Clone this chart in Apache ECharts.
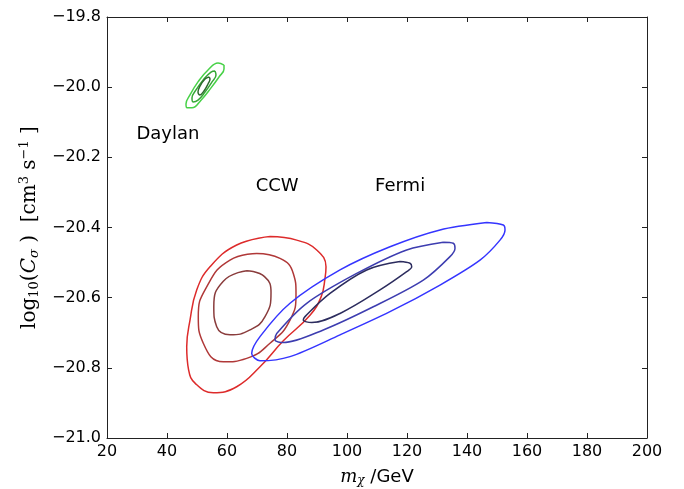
<!DOCTYPE html>
<html><head><meta charset="utf-8">
<script src="https://cdn.jsdelivr.net/npm/echarts@6/dist/echarts.min.js"></script>
<style>html,body{margin:0;padding:0;background:#fff}#c{width:684px;height:489px}</style>
</head><body><div id="c"></div>
<script>
// Axis ranges / ticks
const xRange = [20, 200, 20];
const yRange = [-21.0, -19.8, 0.2];

// Contour lines [mass GeV, log10(C)]
const daylanOuter = [[59.0,-19.937],[57.0,-19.931],[53.67,-19.951],[50.33,-19.985],[47.67,-20.022],[46.33,-20.048],[46.67,-20.059],[48.33,-20.059],[51.33,-20.037],[54.67,-20.002],[57.33,-19.971],[59.0,-19.948]];
const daylanMid = [[56.0,-19.954],[54.67,-19.957],[52.0,-19.98],[49.67,-20.008],[48.33,-20.031],[48.67,-20.042],[50.33,-20.037],[52.67,-20.014],[55.0,-19.985],[56.33,-19.965]];
const daylanInner = [[54.0,-19.971],[52.67,-19.977],[51.0,-19.997],[50.33,-20.014],[51.0,-20.022],[52.33,-20.011],[53.67,-19.991],[54.33,-19.977]];

const ccwOuter = [[74.33,-20.426],[83.23,-20.436],[89.9,-20.464],[93.0,-20.512],[92.67,-20.545],[91.4,-20.597],[87.67,-20.650],[78.77,-20.723],[71.0,-20.797],[63.23,-20.854],[55.43,-20.871],[49.5,-20.845],[47.2,-20.806],[46.57,-20.740],[47.67,-20.664],[49.9,-20.578],[54.33,-20.512],[63.23,-20.450]];
const ccwMid = [[69.9,-20.474],[77.67,-20.488],[82.1,-20.531],[83.0,-20.588],[81.0,-20.664],[74.33,-20.730],[66.57,-20.773],[58.77,-20.783],[52.1,-20.730],[50.43,-20.654],[53.23,-20.569],[61.0,-20.493]];
const ccwInner = [[66.57,-20.523],[72.5,-20.540],[74.67,-20.585],[72.67,-20.654],[67.67,-20.692],[61.0,-20.706],[56.57,-20.683],[55.6,-20.626],[58.77,-20.553]];

const fermiOuter = [[146.57,-20.386],[152.1,-20.393],[152.67,-20.407],[151.0,-20.436],[144.33,-20.493],[131.0,-20.564],[114.33,-20.640],[97.67,-20.706],[81.0,-20.768],[71.0,-20.780],[68.23,-20.759],[71.0,-20.711],[81.0,-20.616],[97.67,-20.521],[114.33,-20.455],[131.0,-20.407]];
const fermiMid = [[132.1,-20.442],[135.43,-20.445],[136.0,-20.459],[134.33,-20.483],[125.43,-20.550],[108.77,-20.626],[92.1,-20.692],[78.77,-20.728],[76.0,-20.721],[76.57,-20.702],[86.57,-20.616],[103.23,-20.531],[119.9,-20.464]];
const fermiInner = [[117.67,-20.497],[121.0,-20.502],[121.57,-20.512],[119.9,-20.526],[111.0,-20.578],[97.67,-20.645],[88.23,-20.671],[85.43,-20.664],[86.0,-20.654],[94.33,-20.588],[106.57,-20.521]];

// Annotations
const labelNames = ['Daylan', 'CCW', 'Fermi'];
const labelX = [40.3, 76.7, 117.7];
const labelY = [-20.135, -20.283, -20.283];

const contours = [
  [daylanOuter, '#47d147', 1.5, 0.45],
  [daylanMid, '#36a836', 1.5, 0.45],
  [daylanInner, '#2f6a2f', 1.5, 0.45],
  [ccwOuter, '#dd2b2b', 1.5, 0.45],
  [ccwMid, '#b03838', 1.5, 0.5],
  [ccwInner, '#8a3c3c', 1.5, 0.5],
  [fermiOuter, '#3535ff', 1.5, 0.3],
  [fermiMid, '#3d3db0', 1.5, 0.3],
  [fermiInner, '#2c2c5e', 1.5, 0.35]
];

const fmtMinus = v => (v < 0 ? '\u2212' : '') + Math.abs(v).toFixed(1);

const series = contours.map(([pts, color, w, sm]) => ({
  type: 'line',
  data: pts.concat([pts[0]]),
  smooth: sm,
  symbol: 'none',
  silent: true,
  lineStyle: { color: color, width: w },
  animation: false
}));
series.push({
  type: 'scatter',
  symbolSize: 0,
  silent: true,
  animation: false,
  itemStyle: { opacity: 1 },
  data: labelNames.map((n, i) => ({ name: n, value: [labelX[i], labelY[i]] })),
  label: { show: true, position: 'inside', formatter: p => p.name, color: '#000', opacity: 1, textBorderWidth: 0, fontSize: 18, fontFamily: 'DejaVu Sans' }
});

const axisCommon = {
  axisLine: { show: true, onZero: false, lineStyle: { color: '#222', width: 1 } },
  axisTick: { show: true, inside: true, length: 5, lineStyle: { color: '#222' } },
  splitLine: { show: false }
};

const chart = echarts.init(document.getElementById('c'), null, { renderer: 'canvas' });
chart.setOption({
  backgroundColor: '#fff',
  animation: false,
  grid: { left: 107, right: 37, top: 17, bottom: 51, containLabel: false, outerBoundsMode: 'none' },
  xAxis: [
    Object.assign({
      type: 'value', min: xRange[0], max: xRange[1], interval: xRange[2], position: 'bottom',
      axisLabel: { color: '#000', fontSize: 16, fontFamily: 'DejaVu Sans', margin: 6 },
      name: '{it|m}{sub|\u03c7}{t| /GeV}', nameLocation: 'middle', nameGap: 30,
      nameTextStyle: { rich: {
        it: { fontFamily: 'DejaVu Serif', fontStyle: 'italic', fontSize: 18, color: '#000' },
        sub: { fontFamily: 'DejaVu Serif', fontStyle: 'italic', fontSize: 12, color: '#000', padding: [7, 0, 0, 0] },
        t: { fontFamily: 'DejaVu Sans', fontSize: 18, color: '#000' }
      } }
    }, axisCommon),
    Object.assign({
      type: 'value', min: xRange[0], max: xRange[1], interval: xRange[2], position: 'top',
      axisLabel: { show: false }
    }, axisCommon)
  ],
  yAxis: [
    Object.assign({
      type: 'value', min: yRange[0], max: yRange[1], interval: yRange[2], position: 'left',
      axisLabel: { color: '#000', fontSize: 16, fontFamily: 'DejaVu Sans', margin: 6, formatter: fmtMinus },
      name: '{r|log}{sub|10}{r|(}{it|C}{subi|\u03c3}{r| )  [cm}{sup|3}{r| s}{sup|\u22121}{r| ]}',
      nameLocation: 'middle', nameGap: 60, nameRotate: 90,
      nameTextStyle: { rich: {
        r: { fontFamily: 'DejaVu Serif', fontSize: 20, color: '#000' },
        it: { fontFamily: 'DejaVu Serif', fontStyle: 'italic', fontSize: 20, color: '#000' },
        sub: { fontFamily: 'DejaVu Serif', fontSize: 13, color: '#000', padding: [10, 0, 0, 0] },
        subi: { fontFamily: 'DejaVu Serif', fontStyle: 'italic', fontSize: 13, color: '#000', padding: [10, 0, 0, 0] },
        sup: { fontFamily: 'DejaVu Serif', fontSize: 13, color: '#000', padding: [0, 0, 10, 0] }
      } }
    }, axisCommon),
    Object.assign({
      type: 'value', min: yRange[0], max: yRange[1], interval: yRange[2], position: 'right',
      axisLabel: { show: false }
    }, axisCommon)
  ],
  series: series
});
</script></body></html>
